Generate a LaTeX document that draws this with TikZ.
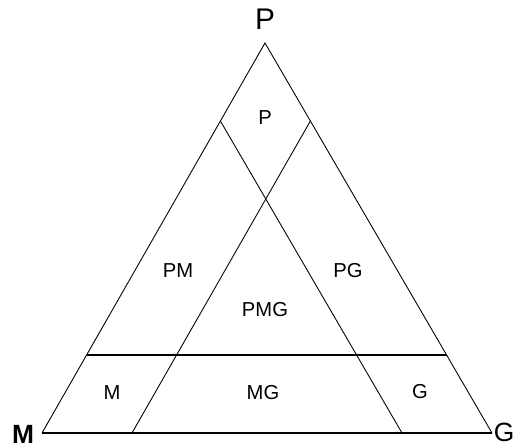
\documentclass[tikz,border=0pt]{standalone}
\usepackage{fontspec}
\setmainfont{Liberation Sans}
\usetikzlibrary{calc}
\begin{document}
\begin{tikzpicture}[x=0.02cm, y=-0.02cm, line width=0.5pt,
  corner/.style={font=\fontsize{17}{20}\selectfont},
  region/.style={font=\fontsize{11.5}{14}\selectfont}]
  \useasboundingbox (0,0) rectangle (518,446);
  % outer triangle
  \coordinate (P) at (265,43);
  \coordinate (M) at (42,433);
  \coordinate (G) at (492,433);
  \draw (M) -- (P) -- (G);
  \draw[line width=1pt] (M) -- (G);
  % cutting lines
  \coordinate (pm) at ($(P)!0.2!(M)$);
  \coordinate (pg) at ($(P)!0.2!(G)$);
  \coordinate (mp) at ($(M)!0.2!(P)$);
  \coordinate (gp) at ($(G)!0.2!(P)$);
  \coordinate (mg) at ($(M)!0.2!(G)$);
  \coordinate (gm) at ($(G)!0.2!(M)$);
  \draw (pm) -- (gm);
  \draw (pg) -- (mg);
  \draw[line width=1pt] (mp) -- (gp);
  % corner labels
  \node[corner] (lP) at (265,19) {P};
  \node[corner, font=\fontsize{15}{18}\selectfont\bfseries] (lM) at (23,434) {M};
  \node[corner, font=\fontsize{15}{18}\selectfont] (lG) at (504,432) {G};
  % region labels
  \node[region] (rP) at (265,118) {P};
  \node[region] (rPM) at (178,271) {PM};
  \node[region] (rPG) at (348,271) {PG};
  \node[region] (rPMG) at (265,310) {PMG};
  \node[region] (rM) at (112,393) {M};
  \node[region] (rMG) at (263,393) {MG};
  \node[region] (rG) at (420,392) {G};
\end{tikzpicture}
\end{document}
